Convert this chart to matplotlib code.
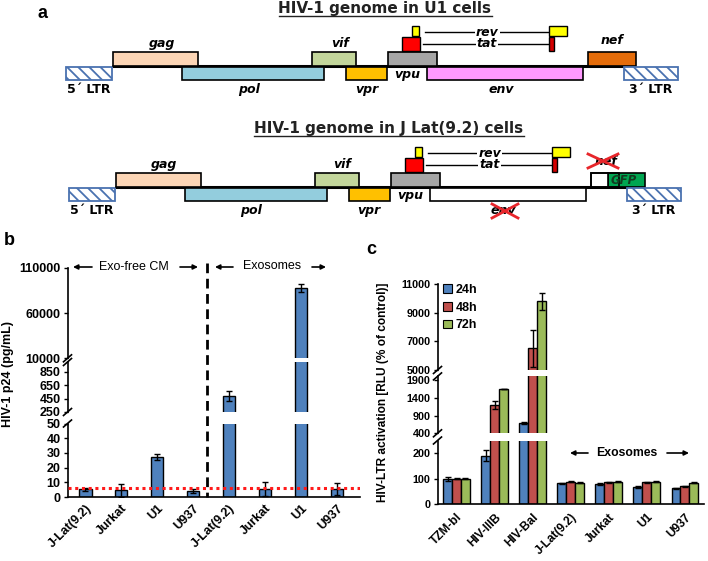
import matplotlib
matplotlib.use('Agg')
import matplotlib.pyplot as plt
from matplotlib.patches import Rectangle, Patch
from matplotlib.lines import Line2D
import matplotlib.transforms as mtransforms

# ---------------- data ----------------
# Panel a: HIV-1 genome map (map units along the genome)
gene_names = ['5´ LTR', 'gag', 'pol', 'vif', 'vpr', 'vpu', 'env', 'nef', '3´ LTR']
gene_start = [66, 113, 182, 312, 346, 388, 427, 588, 624]
gene_end = [112, 198, 324, 356, 387, 437, 583, 636, 678]
gene_row = ['low', 'up', 'low', 'up', 'low', 'up', 'low', 'up', 'low']
gene_colors = ['white', '#fcd5b5', '#93cddd', '#c3d69b', '#ffc000', '#a6a6a6',
               '#ff99ff', '#e46c0a', 'white']
exon_names = ['tat', 'rev', 'rev', 'tat']
exon_start = [402, 412, 549, 549]
exon_end = [420, 419, 567, 554]
jlat_deleted = ['env', 'nef']
jlat_nef_end = 616
gfp_start, gfp_end = 605, 642

# Panel b: HIV-1 p24 (pg/mL)
b_cats = ['J-Lat(9.2)', 'Jurkat', 'U1', 'U937', 'J-Lat(9.2)', 'Jurkat', 'U1', 'U937']
b_vals = [5.2, 4.5, 27, 4.0, 490, 5.5, 88000, 5.5]
b_errs = [0.8, 4.5, 2.0, 1.5, 80, 5.0, 4500, 4.0]
b_threshold = 6.3
b_seg_lims = [(0, 50), (250, 1000), (10000, 110000)]
b_seg_ticks = [[0, 10, 20, 30, 40, 50], [250, 450, 650, 850], [10000, 60000, 110000]]

# Panel c: HIV-LTR activation [RLU (% of control)]
c_cats = ['TZM-bl', 'HIV-IIIB', 'HIV-Bal', 'J-Lat(9.2)', 'Jurkat', 'U1', 'U937']
c_series = ['24h', '48h', '72h']
c_24 = [100, 190, 700, 82, 80, 68, 62]
c_48 = [100, 1190, 6500, 88, 86, 87, 70]
c_72 = [100, 1650, 9800, 85, 88, 88, 85]
c_24_err = [8, 22, 30, 2, 3, 3, 2]
c_48_err = [2, 110, 1300, 2, 2, 2, 2]
c_72_err = [2, 0, 600, 2, 2, 2, 2]
c_seg_lims = [(0, 250), (400, 2000), (5000, 11000)]
c_seg_ticks = [[0, 100, 200], [400, 900, 1400, 1900], [5000, 7000, 9000, 11000]]

# ---------------- figure ----------------
W, H = 708, 561
plt.rcParams['font.family'] = ['Liberation Sans', 'DejaVu Sans']
plt.rcParams['font.weight'] = 'bold'
plt.rcParams['hatch.linewidth'] = 1.3
fig = plt.figure(figsize=(W / 100, H / 100), dpi=100)

# overlay axes in pixel coordinates (for diagram and annotations)
ax_a = fig.add_axes([0, 0, 1, 1], zorder=10)
ax_a.set_xlim(0, W)
ax_a.set_ylim(H, 0)
ax_a.axis('off')
ax_a.patch.set_alpha(0)

BLUE_BAR = '#4f81bd'
RED_BAR = '#c0504d'
GREEN_BAR = '#9bbb59'
LTR_EDGE = '#4a72b0'
DJ = 'DejaVu Sans'


def draw_genome(y0, dx, jlat=False):
    ax_a.plot([112 + dx, 624 + dx], [y0, y0], color='k', lw=2.2, zorder=1,
              solid_capstyle='butt')
    for name, s, e, row, col in zip(gene_names, gene_start, gene_end, gene_row, gene_colors):
        s += dx
        e += dx
        if jlat and name == 'nef':
            ax_a.add_patch(Rectangle((gfp_start + dx, y0 - 14.5), gfp_end - gfp_start, 14.5,
                                     facecolor='#00a651', edgecolor='k', lw=1.2, zorder=3))
            e = jlat_nef_end + dx
            ax_a.add_patch(Rectangle((s, y0 - 14.5), e - s, 14.5, facecolor='none',
                                     edgecolor='k', lw=1.2, zorder=4))
            ax_a.add_patch(Rectangle((s, y0 - 14.5), gfp_start + dx - s, 14.5,
                                     facecolor='white', edgecolor='k', lw=1.2, zorder=3))
            ax_a.text(gfp_start + dx + 3, y0 - 7, 'GFP', fontsize=8.5, style='italic',
                      family=DJ, color='#123b20', ha='left', va='center', zorder=5)
        else:
            if jlat and name in jlat_deleted:
                col = 'white'
            if 'LTR' in name:
                ax_a.add_patch(Rectangle((s, y0 + 1), e - s, 12.5, facecolor='white',
                                         edgecolor=LTR_EDGE, hatch='\\' * 3, lw=1.3, zorder=3))
            elif row == 'up':
                ax_a.add_patch(Rectangle((s, y0 - 14.5), e - s, 14.5, facecolor=col,
                                         edgecolor='k', lw=1.2, zorder=3))
            else:
                ax_a.add_patch(Rectangle((s, y0 + 1), e - s, 12.5, facecolor=col,
                                         edgecolor='k', lw=1.2, zorder=3))
        # labels
        cx = (gene_start[gene_names.index(name)] + gene_end[gene_names.index(name)]) / 2 + dx
        if 'LTR' in name:
            ax_a.text(cx, y0 + 23, name, fontsize=9, family=DJ, ha='center', va='center')
        elif name == 'vpu':
            ax_a.text(cx - 5, y0 + 8, name, fontsize=9, family=DJ, style='italic',
                      ha='center', va='center')
        elif name == 'nef':
            ax_a.text(612 + dx - 8 * jlat, y0 - 26, name, fontsize=9, family=DJ,
                      style='italic', ha='center', va='center')
        elif row == 'up':
            ax_a.text(cx + 6, y0 - 23, name, fontsize=9, family=DJ, style='italic',
                      ha='center', va='center')
        else:
            lx = cx - 4 if name != 'vpr' else cx
            ax_a.text(lx, y0 + 23, name, fontsize=9, family=DJ, style='italic',
                      ha='center', va='center')
    # tat / rev exons
    for name, s, e in zip(exon_names, exon_start, exon_end):
        s += dx
        e += dx
        if name == 'tat':
            ax_a.add_patch(Rectangle((s, y0 - 29), e - s, 14, facecolor='#ff0000' if e - s > 8 else '#d40000',
                                     edgecolor='k', lw=1.0, zorder=3))
        else:
            ax_a.add_patch(Rectangle((s, y0 - 40), e - s, 10, facecolor='#ffff00',
                                     edgecolor='k', lw=1.0, zorder=3))
    ax_a.plot([425 + dx, 549 + dx], [y0 - 34, y0 - 34], color='k', lw=1.0)
    ax_a.plot([423 + dx, 549 + dx], [y0 - 22.5, y0 - 22.5], color='k', lw=1.0)
    for lab, yy in (('rev', y0 - 34), ('tat', y0 - 22.5)):
        ax_a.text(487 + dx, yy, lab, fontsize=9, family=DJ, style='italic', ha='center',
                  va='center', bbox=dict(facecolor='white', edgecolor='none', pad=0.8))
    if jlat:
        # red crosses over deleted genes
        for (xa, xb, ya, yb) in ((492, 518, 204, 218), (588, 618, 154, 168)):
            ax_a.plot([xa, xb], [ya, yb], color='#e8262b', lw=2.0, zorder=6)
            ax_a.plot([xa, xb], [yb, ya], color='#e8262b', lw=2.0, zorder=6)


def underlined_title(x, y, s):
    t = ax_a.text(x, y, s, fontsize=11, family=DJ, ha='center', va='center', color='#222222')
    return t


titles = [underlined_title(385, 8, 'HIV-1 genome in U1 cells'),
          underlined_title(389, 128, 'HIV-1 genome in J Lat(9.2) cells')]
draw_genome(66, 0)
draw_genome(187, 2.5, jlat=True)

# panel letters
ax_a.text(43, 13, 'a', fontsize=13, ha='center', va='center')
ax_a.text(9, 240, 'b', fontsize=13, ha='center', va='center')
ax_a.text(371, 249, 'c', fontsize=13, ha='center', va='center')


def px_axes(x0, x1, ytop, ybot):
    return fig.add_axes([x0 / W, 1 - ybot / H, (x1 - x0) / W, (ybot - ytop) / H])


def style_seg(ax, lims, ticks, is_bottom, fs):
    ax.set_ylim(*lims)
    ax.set_yticks(ticks)
    ax.spines['top'].set_visible(False)
    ax.spines['right'].set_visible(False)
    ax.spines['left'].set_linewidth(1.2)
    ax.spines['bottom'].set_linewidth(1.2)
    ax.patch.set_alpha(0)
    ax.tick_params(axis='y', direction='out', length=3, width=1.0, labelsize=fs, pad=2)
    if not is_bottom:
        ax.spines['bottom'].set_visible(False)
        ax.set_xticks([])


def break_marks(xpx, ypx_list):
    for yp in ypx_list:
        ax_a.plot([xpx - 4, xpx + 4], [yp + 3.5, yp - 3.5], color='k', lw=1.2, clip_on=False)


# ---------------- panel b ----------------
b_rects = [(423.5, 497), (362, 412), (268, 358.3)]
b_x = list(range(len(b_cats)))
b_axes = []
for i, ((yt, yb), lims, ticks) in enumerate(zip(b_rects, b_seg_lims, b_seg_ticks)):
    ax = px_axes(67.5, 360, yt, yb)
    ax.bar(b_x, b_vals, 0.34, color=BLUE_BAR, edgecolor='k', linewidth=1.0, zorder=2)
    ax.errorbar(b_x, b_vals, yerr=b_errs, fmt='none', ecolor='k', elinewidth=1.0,
                capsize=2.5, capthick=1.0, zorder=3)
    ax.set_xlim(-0.5, 7.65)
    style_seg(ax, lims, ticks, i == 0, 9)
    b_axes.append(ax)
b0 = b_axes[0]
b0.axhline(b_threshold, color='#ff1a1a', lw=2.2, ls=(0, (1, 1.2)), zorder=5)
b0.set_xticks(b_x)
b0.set_xticklabels(b_cats, rotation=45, ha='right', va='top', rotation_mode='anchor', fontsize=9)
b0.tick_params(axis='x', length=0, pad=4)
break_marks(67.5, [423.5, 412, 362, 358.3])
ax_a.text(8, 374, 'HIV-1 p24 (pg/mL)', rotation=90, fontsize=9, ha='center', va='center')

blend_b = mtransforms.blended_transform_factory(b0.transData, ax_a.transData)
ax_a.add_line(Line2D([3.4, 3.4], [263, 497], transform=blend_b, color='k', lw=2.0,
                     ls=(0, (3.5, 2.0))))

arrow_kw = dict(arrowstyle='-|>', color='k', lw=1.2, mutation_scale=7, shrinkA=0, shrinkB=0)
for (xa, xb) in ((92, 73), (180, 198), (233, 215), (312, 326)):
    ax_a.annotate('', xy=(xb, 267), xytext=(xa, 267), arrowprops=arrow_kw)
ax_a.text(134, 267, 'Exo-free CM', fontsize=9, fontweight='normal', ha='center', va='center')
ax_a.text(272.5, 266, 'Exosomes', fontsize=9, fontweight='normal', ha='center', va='center')

# ---------------- panel c ----------------
c_rects = [(440.5, 504.3), (376.4, 433.3), (284, 370)]
c_vals = [c_24, c_48, c_72]
c_errs = [c_24_err, c_48_err, c_72_err]
c_colors = [BLUE_BAR, RED_BAR, GREEN_BAR]
w = 0.235
c_x = list(range(len(c_cats)))
c_axes = []
for i, ((yt, yb), lims, ticks) in enumerate(zip(c_rects, c_seg_lims, c_seg_ticks)):
    ax = px_axes(437.5, 704, yt, yb)
    for k, (vals, errs, col) in enumerate(zip(c_vals, c_errs, c_colors)):
        xs = [x + (k - 1) * w for x in c_x]
        ax.bar(xs, vals, w, color=col, edgecolor='k', linewidth=1.0, zorder=2,
               label=c_series[k])
        ax.errorbar(xs, vals, yerr=errs, fmt='none', ecolor='k', elinewidth=1.0,
                    capsize=2.2, capthick=1.0, zorder=3)
    ax.set_xlim(-0.5, 6.5)
    style_seg(ax, lims, ticks, i == 0, 7.8)
    c_axes.append(ax)
c0 = c_axes[0]
c0.set_xticks(c_x)
c0.set_xticklabels(c_cats, rotation=45, ha='right', va='top', rotation_mode='anchor', fontsize=8.6)
c0.tick_params(axis='x', length=0, pad=5)
break_marks(437.5, [440.5, 433.3, 376.4, 370])
ax_a.text(383, 392, 'HIV-LTR activation [RLU (% of control)]', rotation=90, fontsize=8.6,
          ha='center', va='center')

handles = [Patch(facecolor=c, edgecolor='k', linewidth=0.8) for c in c_colors]
fig.legend(handles, c_series, loc='upper left', bbox_to_anchor=(443 / W, 1 - 284 / H),
           frameon=False, fontsize=9, handlelength=0.7, handleheight=0.7, handletextpad=0.3,
           labelspacing=0.45, borderpad=0, borderaxespad=0)

for (xa, xb) in ((588, 570), (667, 689)):
    ax_a.annotate('', xy=(xb, 453), xytext=(xa, 453), arrowprops=arrow_kw)
ax_a.text(627, 453, 'Exosomes', fontsize=8.8, ha='center', va='center')

# underline the titles
fig.canvas.draw()
r = fig.canvas.get_renderer()
inv = ax_a.transData.inverted()
for t in titles:
    bb = t.get_window_extent(r)
    (x0, y0), (x1, y1) = inv.transform([(bb.x0, bb.y0), (bb.x1, bb.y1)])
    ax_a.plot([x0, x1], [y0 + 0.5, y0 + 0.5], color='#222222', lw=1.0)

fig.savefig('out.png', dpi=100)
